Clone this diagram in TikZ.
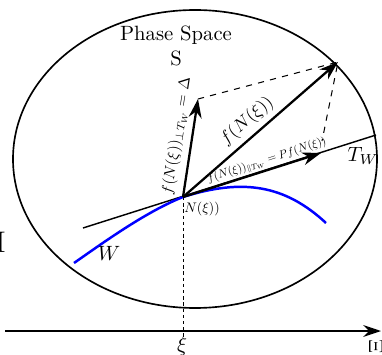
\documentclass[tikz,border=0pt]{standalone}
\usepackage{amsmath}
\usepackage{amssymb}
\usepackage{tikz}
\usetikzlibrary{arrows.meta,calc}
\definecolor{curveBlue}{HTML}{0000FF}
\tikzset{
  vecArrow/.style={-{Stealth[length=3.2mm,width=2.2mm]}, line width=1.1pt, draw=black},
  axisArrow/.style={-{Stealth[length=3mm,width=2mm]}, line width=0.8pt},
  guideLine/.style={dashed, line width=0.5pt},
  dropLine/.style={dash pattern=on 1.6pt off 1.4pt, line width=0.45pt},
  tangentLine/.style={line width=0.7pt},
  manifoldW/.style={draw=curveBlue, line width=1.2pt},
  vecLabel/.style={inner sep=1pt}
}
\begin{document}
\begin{tikzpicture}[x=0.017cm, y=-0.017cm]
  \useasboundingbox (0,0) rectangle (382,355);

  % phase space
  \draw[line width=0.8pt] (195,159) ellipse [x radius=182, y radius=149];
  \node[align=center, inner sep=0pt] (title) at (176,46) {Phase Space\\S};

  % base axis
  \coordinate (axisL) at (5,331);
  \coordinate (axisR) at (381,331);
  \draw[axisArrow] (axisL) -- (axisR);
  \node[rotate=90] (Xi) at (376,347) {$\Xi$};
  \node (cut) at (0.5,242) {\Large$\mathrm{I}$};

  % point and tangent
  \coordinate (N) at (183,197);
  \coordinate (tanL) at (83,228);
  \coordinate (tanR) at (376,135);
  \coordinate (foot) at (183,338);
  \draw[tangentLine] (tanL) -- (tanR);
  \draw[dropLine] (N) -- (foot);
  \node (xi) at (182,346) {$\xi$};

  % manifold W
  \draw[manifoldW] (74,263) .. controls (100,245) and (145,212) .. (N)
    .. controls (243,178) and (285,185) .. (326,223);
  \node (Wlab) at (109,253) {$W$};
  \node (TWlab) at (363,156) {$T_W$};
  \node[scale=0.67] (Nlab) at (202,209) {$N(\xi))$};

  % vectors
  \coordinate (Dtip) at (198,99);
  \coordinate (Ftip) at (338,62);
  \coordinate (Ptip) at (321,153);
  \coordinate (Pdash) at (322,141);
  \draw[guideLine] (Dtip) -- (Ftip) -- (Pdash);
  \draw[vecArrow] (N) -- (Dtip);
  \draw[vecArrow] (N) -- (Ftip);
  \draw[vecArrow] (N) -- (Ptip);

  \node[vecLabel, rotate=81, scale=0.75] (Dlab) at (177,136)
    {$f(N(\xi))_{\perp T_W} = \Delta$};
  \node[vecLabel, rotate=41, scale=0.87] (Flab) at (247,121) {$f(N(\xi))$};
  \node[vecLabel, rotate=18, scale=0.55] (Plab) at (267,161)
    {$f(N(\xi))_{\parallel T_W} = Pf(N(\xi))$};
\end{tikzpicture}
\end{document}
